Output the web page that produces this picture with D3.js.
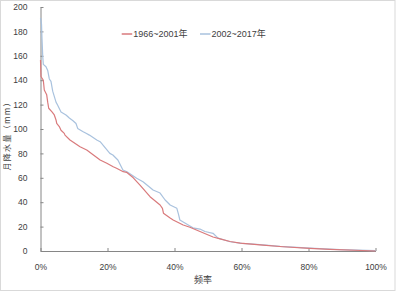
<!DOCTYPE html>
<html>
<head>
<meta charset="utf-8">
<script src="https://cdn.jsdelivr.net/npm/d3@7"></script>
<style>
  html, body { margin: 0; padding: 0; background: #fff; }
  svg { display: block; font-family: "Liberation Sans", Arial, sans-serif; }
</style>
</head>
<body>
<svg id="chart" width="396" height="292"></svg>
<script>
// ---- data (frequency %, monthly precipitation mm) ----
const seriesNames = ["1966~2001年", "2002~2017年"];
const seriesColors = ["#d97a7c", "#a9c2de"];

const redFreq  = [0, 0.15, 0.84, 1.13, 1.85, 2.15, 2.45, 3.43, 4.12, 4.63, 4.84, 5.61, 6.12, 7.1, 7.31, 8.8, 11.8, 13.8, 15.8, 17.8, 19.8, 21.7, 22.7, 24.7, 25.7, 27.7, 29.7, 32.7, 35.7, 36.4, 36.7, 38.7, 39.6, 42.6, 44.6, 47.6, 51.5, 53.6, 56.6, 59.6, 66.4, 72.4, 80.4, 86.4, 100];
const redVal   = [156.5, 143, 140, 132, 128, 122, 117, 114, 111.5, 107.4, 104.6, 102, 99, 96.4, 95, 91, 85.5, 82.8, 78.7, 74.6, 71.9, 69, 67.8, 65, 64.5, 60, 54, 44.5, 37.7, 35, 31, 27, 25.4, 21.3, 19.5, 16, 11.5, 10, 7.8, 6.5, 4.8, 3.5, 2.2, 1.4, 0];

const blueFreq = [0, 0.3, 0.45, 0.66, 0.84, 1.64, 2.15, 2.63, 3.13, 3.64, 4.63, 5.13, 6.12, 7.61, 8.6, 9.61, 10.6, 11.1, 12.6, 13.6, 14.6, 16.8, 17.8, 20.7, 21.6, 23.1, 24.6, 25.8, 28.7, 30.6, 33.6, 35.7, 37.2, 38.7, 40.7, 41.2, 41.6, 43.1, 45.5, 47.6, 49.1, 51.5, 53.0, 56.6, 60.1, 65.5, 71.5, 80.4, 89.4, 100];
const blueVal  = [191, 186, 174, 160, 153, 151, 148, 141, 139, 131, 122, 119.5, 114, 111.5, 109, 107, 104.5, 100.5, 98, 96.5, 95, 91, 89.6, 80, 78.7, 74.6, 66.4, 65, 59.6, 56.8, 50, 47.5, 41.8, 37.7, 35, 30, 25.4, 23, 19, 18, 16, 14.5, 10.6, 7.6, 6.3, 5.2, 3.8, 2.3, 1.2, 0.3];

const xTicks = [0, 0.2, 0.4, 0.6, 0.8, 1.0];
const yTicks = [0, 20, 40, 60, 80, 100, 120, 140, 160, 180, 200];
const xTitle = "频率";
const yTitle = "月降水量（mm）";

// ---- drawing ----
const svg = d3.select("#chart");
const W = 396, H = 292;

svg.append("rect")
  .attr("x", 0.5).attr("y", 0.5)
  .attr("width", W - 1.5).attr("height", H - 2)
  .attr("fill", "#fff").attr("stroke", "#d9d9d9").attr("stroke-width", 1);

const x = d3.scaleLinear().domain([0, 1]).range([40.5, 375.5]);
const y = d3.scaleLinear().domain([0, 200]).range([251, 7]);

const axisColor = "#868686";
const textColor = "#404040";

// y axis
const gy = svg.append("g").attr("transform", "translate(40.5,0)")
  .call(d3.axisLeft(y).tickValues(yTicks).tickSizeInner(-3).tickSizeOuter(0).tickPadding(13));
// x axis
const gx = svg.append("g").attr("transform", "translate(0,251)")
  .call(d3.axisBottom(x).tickValues(xTicks).tickFormat(d3.format(".0%")).tickSizeInner(-3).tickSizeOuter(0).tickPadding(13));

[gx, gy].forEach(g => {
  g.select(".domain").attr("stroke", axisColor).attr("stroke-width", 1);
  g.selectAll(".tick line").attr("stroke", axisColor);
  g.selectAll(".tick text").attr("fill", textColor)
    .style("font-family", '"Liberation Sans", Arial, sans-serif')
    .style("font-size", "8.5px");
});

// lines
const line = d3.line().x(d => x(d[0] / 100)).y(d => y(d[1]));
const series = [
  d3.zip(redFreq, redVal),
  d3.zip(blueFreq, blueVal)
];
// draw blue first then red on top? red drawn after blue to appear dashed-over at overlap
[1, 0].forEach(i => {
  svg.append("path")
    .datum(series[i])
    .attr("fill", "none")
    .attr("stroke", seriesColors[i])
    .attr("stroke-width", 1.2)
    .attr("stroke-linejoin", "round")
    .attr("d", line);
});

// legend
const legendX = [121.7, 200];
seriesNames.forEach((name, i) => {
  svg.append("line")
    .attr("x1", legendX[i]).attr("x2", legendX[i] + 10.5)
    .attr("y1", 34).attr("y2", 34)
    .attr("stroke", seriesColors[i]).attr("stroke-width", 1.5);
  svg.append("text")
    .attr("x", legendX[i] + 11.5).attr("y", 37.2)
    .attr("fill", textColor)
    .style("font-size", "9px")
    .style("font-family", '"Liberation Sans", "Noto Sans CJK SC", sans-serif')
    .text(name);
});

// axis titles
svg.append("text")
  .attr("x", 203).attr("y", 282.5)
  .attr("text-anchor", "middle")
  .attr("fill", textColor)
  .style("font-size", "9px")
  .style("font-family", '"Noto Sans CJK SC", sans-serif')
  .text(xTitle);

svg.append("text")
  .attr("transform", "translate(9.5,134.5) rotate(-90)")
  .attr("text-anchor", "middle")
  .attr("fill", textColor)
  .attr("textLength", 72)
  .attr("lengthAdjust", "spacing")
  .style("font-size", "8px")
  .style("font-family", '"Noto Sans CJK SC", sans-serif')
  .text(yTitle);
</script>
</body>
</html>
